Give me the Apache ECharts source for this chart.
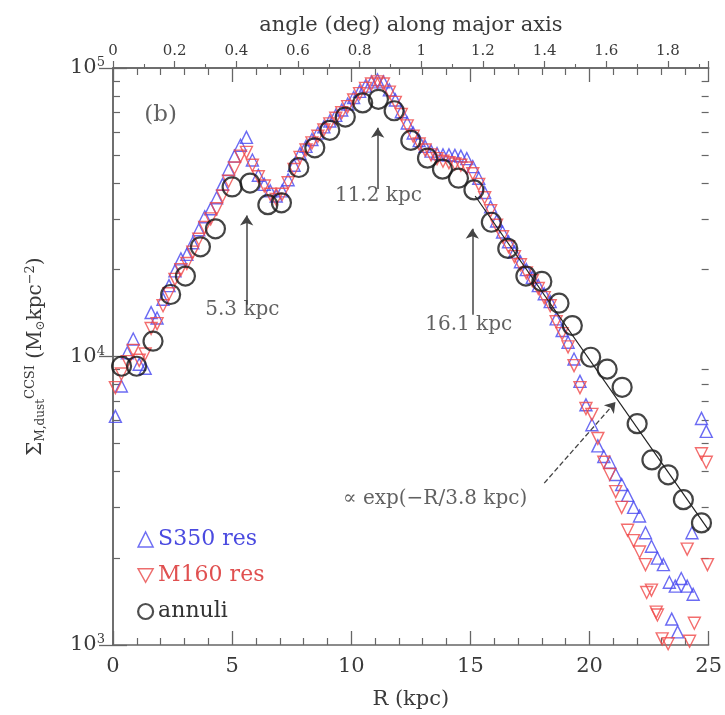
<!DOCTYPE html>
<html><head><meta charset="utf-8">
<script src="https://cdn.jsdelivr.net/npm/echarts@6/dist/echarts.min.js"></script>
<style>html,body{margin:0;padding:0;background:#fff}#c{width:725px;height:715px}</style>
</head><body><div id="c"></div>
<script>
// ---- data ----
const annuliR = [0.36,0.99,1.68,2.42,3.04,3.67,4.3,5.0,5.75,6.5,7.07,7.8,8.47,9.1,9.75,10.48,11.14,11.8,12.5,13.2,13.83,14.5,15.15,15.88,16.57,17.33,18.0,18.72,19.28,20.05,20.74,21.37,22.0,22.62,23.3,23.94,24.7];
const annuliV = [9250,9250,11300,16400,19000,24000,27700,38700,39900,33600,34100,45200,52900,60800,67600,75700,77900,71100,56100,48700,44600,41500,37800,29200,23700,19000,18200,15300,12800,9940,9040,7820,5850,4380,3890,3190,2650];

const s350R = [0.1,0.35,0.6,0.85,1.1,1.35,1.6,1.85,2.1,2.35,2.6,2.85,3.1,3.35,3.6,3.85,4.1,4.35,4.6,4.85,5.1,5.35,5.6,5.85,6.1,6.35,6.6,6.85,7.1,7.35,7.6,7.85,8.1,8.35,8.6,8.85,9.1,9.35,9.6,9.85,10.1,10.35,10.6,10.85,11.1,11.35,11.6,11.85,12.1,12.35,12.6,12.85,13.1,13.35,13.6,13.85,14.1,14.35,14.6,14.85,15.1,15.35,15.6,15.85,16.1,16.35,16.6,16.85,17.1,17.35,17.6,17.85,18.1,18.35,18.6,18.85,19.1,19.35,19.6,19.85,20.1,20.35,20.6,20.85,21.1,21.35,21.6,21.85,22.1,22.35,22.6,22.85,23.1,23.35,23.6,23.85,24.1,24.35,23.45,23.7,24.3,24.7,24.9];
const s350V = [6200,7900,10300,11500,9400,9100,14200,13600,15800,17600,19800,21800,22600,24800,27500,30500,32500,35500,39500,44500,49500,54000,57500,48000,42500,39500,37500,36000,37500,41000,46000,50500,53500,56500,59500,62500,65500,68500,71500,75000,79000,83000,86500,89500,91000,89500,84000,77500,70500,64500,59500,56000,53500,51500,50500,50000,50000,49800,49500,48500,45500,41500,37000,33000,29500,27000,25000,23000,21300,20000,18800,17600,16500,15500,13500,12300,11200,9800,8200,6800,5800,4900,4500,4300,3900,3600,3300,3000,2800,2450,2200,2000,1900,1650,1600,1700,1600,1500,1230,1110,2450,6100,5500];

const m160R = [0.1,0.35,0.6,0.85,1.1,1.35,1.6,1.85,2.1,2.35,2.6,2.85,3.1,3.35,3.6,3.85,4.1,4.35,4.6,4.85,5.1,5.35,5.6,5.85,6.1,6.35,6.6,6.85,7.1,7.35,7.6,7.85,8.1,8.35,8.6,8.85,9.1,9.35,9.6,9.85,10.1,10.35,10.6,10.85,11.1,11.35,11.6,11.85,12.1,12.35,12.6,12.85,13.1,13.35,13.6,13.85,14.1,14.35,14.6,14.85,15.1,15.35,15.6,15.85,16.1,16.35,16.6,16.85,17.1,17.35,17.6,17.85,18.1,18.35,18.6,18.85,19.1,19.35,19.6,19.85,20.1,20.35,20.6,20.85,21.1,21.35,21.6,21.85,22.1,22.35,22.6,22.85,23.05,22.4,22.8,23.3,24.1,24.2,24.4,24.7,24.9,24.95];
const m160V = [7800,8700,9600,10500,9700,10200,12500,13000,15000,16500,18500,20000,21000,23000,25500,28000,30000,32500,36000,40500,45000,49500,51000,46000,42000,39000,36500,35000,36500,40000,44500,49000,52000,55000,58000,61000,64000,67000,70000,73500,77500,81500,85000,88000,89500,88000,82500,76000,69000,63000,58000,54500,52000,50000,48500,47500,47000,46500,46000,45000,43000,39500,35500,32000,28500,26000,24000,22200,20800,19500,18300,17200,16000,15000,13200,12000,10800,9300,7800,6600,6300,5200,4300,3900,3400,3000,2500,2300,2100,1900,1550,1270,1050,1520,1300,1010,2150,1030,1190,4600,4300,1900];

const fitR = [15.2, 25];
const fitV = [36000, 2500];

// arrows: [R, tailV, headV]
const arrowR = [5.61, 11.11, 15.08];
const arrowTail = [15100, 38100, 13960];
const arrowHead = [30800, 62100, 27700];
const dashFrom = [18.1, 3640];
const dashTo = [21.09, 6950];

const annoText = ['(b)', '5.3 kpc', '11.2 kpc', '16.1 kpc', '\u221d exp(\u2212R/3.8 kpc)'];
const annoR = [2.0, 5.43, 11.14, 14.93, 13.52];
const annoV = [68900, 14500, 36000, 12900, 3200];
const annoSize = [23, 20, 20, 20, 20];

const xTicksBottom = [0, 5, 10, 15, 20, 25];
const angleMax = 1.932;
const yMinor = [2000,3000,4000,5000,6000,7000,8000,9000,20000,30000,40000,50000,60000,70000,80000,90000];
const yMajor = [1000,10000,100000];

// ---- chart ----
const FONT = 'DejaVu Serif';
const TXT = '#3a3a3a';
const AX = '#666';
const zip = (a, b) => a.map((v, i) => [v, b[i]]);

const chart = echarts.init(document.getElementById('c'));
const frameLine = {show: true, lineStyle: {color: AX, width: 1.5}};

const arrowLines = arrowR.map((r, i) => [{coord: [r, arrowTail[i]]}, {coord: [r, arrowHead[i]]}]);

chart.setOption({
  animation: false,
  backgroundColor: '#fff',
  grid: {left: 113, right: 13, top: 68, bottom: 65},
  legend: {
    orient: 'vertical', left: 132, top: 522, itemGap: 11, itemWidth: 15, itemHeight: 15,
    textStyle: {fontFamily: FONT, fontSize: 22, lineHeight: 25},
    data: [
      {name: 'S350 res', icon: 'triangle', itemStyle: {color: 'rgba(0,0,0,0)', borderColor: '#4a4af0', borderWidth: 1.5}, textStyle: {color: '#4a4ae0'}},
      {name: 'M160 res', icon: 'path://M0,0 L10,0 L5,9 Z', itemStyle: {color: 'rgba(0,0,0,0)', borderColor: '#e84848', borderWidth: 1.5}, textStyle: {color: '#e05050'}},
      {name: 'annuli', icon: 'circle', itemStyle: {color: 'rgba(0,0,0,0)', borderColor: '#222', borderWidth: 2.2}, textStyle: {color: '#333'}}
    ]
  },
  xAxis: [
    {type: 'value', position: 'bottom', min: 0, max: 25, interval: 5,
     name: 'R (kpc)', nameLocation: 'middle', nameGap: 44,
     nameTextStyle: {fontFamily: FONT, fontSize: 21, color: TXT},
     axisLine: frameLine, splitLine: {show: false},
     axisTick: {inside: true, length: 14, lineStyle: {color: AX, width: 1.3}},
     minorTick: {show: true, splitNumber: 5, length: 7, lineStyle: {color: AX, width: 1.2}},
     axisLabel: {fontFamily: FONT, fontSize: 21, color: TXT, margin: 11,
       customValues: xTicksBottom}},
    {type: 'value', position: 'top', min: 0, max: angleMax, interval: 0.2,
     name: 'angle (deg) along major axis', nameLocation: 'middle', nameGap: 32,
     nameTextStyle: {fontFamily: FONT, fontSize: 21, color: TXT},
     axisLine: frameLine, splitLine: {show: false},
     axisTick: {inside: false, length: 7, lineStyle: {color: AX, width: 1.2}},
     minorTick: {show: true, splitNumber: 2, length: 4, lineStyle: {color: AX, width: 1.1}},
     axisLabel: {fontFamily: FONT, fontSize: 15, color: TXT, margin: 9, showMaxLabel: false}},
    {type: 'value', position: 'top', min: 0, max: 25, interval: 5,
     axisLine: frameLine, splitLine: {show: false},
     axisTick: {inside: true, length: 14, lineStyle: {color: AX, width: 1.3}},
     minorTick: {show: true, splitNumber: 5, length: 7, lineStyle: {color: AX, width: 1.2}},
     axisLabel: {show: false}}
  ],
  yAxis: [
    {type: 'log', logBase: 10, min: 1000, max: 100000, position: 'left',
     name: '{a|\u03a3}{sub|M,dust}{sup|CCSI} {a|(M}{sub|\u2299}{a|kpc}{sup|\u22122}{a|)}',
     nameLocation: 'middle', nameGap: 62, nameRotate: 90,
     nameTextStyle: {fontFamily: FONT, fontSize: 20, color: TXT,
       rich: {a: {fontFamily: FONT, fontSize: 20, color: TXT, lineHeight: 30, verticalAlign: 'middle'},
              sub: {fontFamily: FONT, fontSize: 12, color: TXT, lineHeight: 30, padding: [10, 0, 0, 0]},
              sup: {fontFamily: FONT, fontSize: 13, color: TXT, lineHeight: 30, padding: [0, 0, 10, 0]}}},
     axisLine: frameLine, splitLine: {show: false},
     axisTick: {inside: true, length: 14, lineStyle: {color: AX, width: 1.3}, customValues: yMajor},
     axisLabel: {margin: 8, customValues: yMajor,
       formatter: v => '{b|10}{s|' + Math.round(Math.log10(v)) + '}',
       rich: {b: {fontFamily: FONT, fontSize: 21, color: TXT},
              s: {fontFamily: FONT, fontSize: 13, color: TXT, padding: [0, 0, 10, 0]}}}},
    {type: 'log', logBase: 10, min: 1000, max: 100000, position: 'left',
     axisLine: {show: false}, splitLine: {show: false},
     axisTick: {inside: true, length: 7, lineStyle: {color: AX, width: 1.2}, customValues: yMinor},
     axisLabel: {show: false}},
    {type: 'log', logBase: 10, min: 1000, max: 100000, position: 'right',
     axisLine: frameLine, splitLine: {show: false},
     axisTick: {inside: true, length: 14, lineStyle: {color: AX, width: 1.3}, customValues: yMajor},
     axisLabel: {show: false}},
    {type: 'log', logBase: 10, min: 1000, max: 100000, position: 'right',
     axisLine: {show: false}, splitLine: {show: false},
     axisTick: {inside: true, length: 7, lineStyle: {color: AX, width: 1.2}, customValues: yMinor},
     axisLabel: {show: false}}
  ],
  series: [
    {name: 'S350 res', type: 'scatter', data: zip(s350R, s350V), symbol: 'triangle', symbolSize: 12,
     itemStyle: {color: 'rgba(0,0,0,0)', borderColor: '#4646f0', borderWidth: 1.4}, z: 2},
    {name: 'M160 res', type: 'scatter', data: zip(m160R, m160V), symbol: 'triangle', symbolRotate: 180, symbolSize: 12,
     itemStyle: {color: 'rgba(0,0,0,0)', borderColor: '#f04848', borderWidth: 1.4}, z: 3},
    {name: 'annuli', type: 'scatter', data: zip(annuliR, annuliV), symbol: 'circle', symbolSize: 19,
     itemStyle: {color: 'rgba(0,0,0,0)', borderColor: '#151515', borderWidth: 2.2}, z: 4},
    {name: 'fit', type: 'line', data: zip(fitR, fitV), showSymbol: false, symbol: 'none',
     lineStyle: {color: '#222', width: 1.2}, z: 5, silent: true},
    {name: 'arrows', type: 'line', data: [], z: 6, silent: true,
     markLine: {silent: true, symbol: ['none', 'arrow'], symbolSize: 10, label: {show: false},
       lineStyle: {color: '#444', width: 1.5, type: 'solid'},
       data: arrowLines.concat([[{coord: dashFrom, lineStyle: {type: 'dashed', color: '#444', width: 1.3}}, {coord: dashTo}]])}},
    {name: 'anno', type: 'scatter', symbolSize: 0, z: 7, silent: true,
     data: annoText.map((t, i) => ({name: t, value: [annoR[i], annoV[i]],
       label: {fontSize: annoSize[i]}})),
     label: {show: true, position: 'inside', formatter: p => p.name,
       fontFamily: FONT, fontSize: 20, color: TXT}}
  ]
});
</script></body></html>
